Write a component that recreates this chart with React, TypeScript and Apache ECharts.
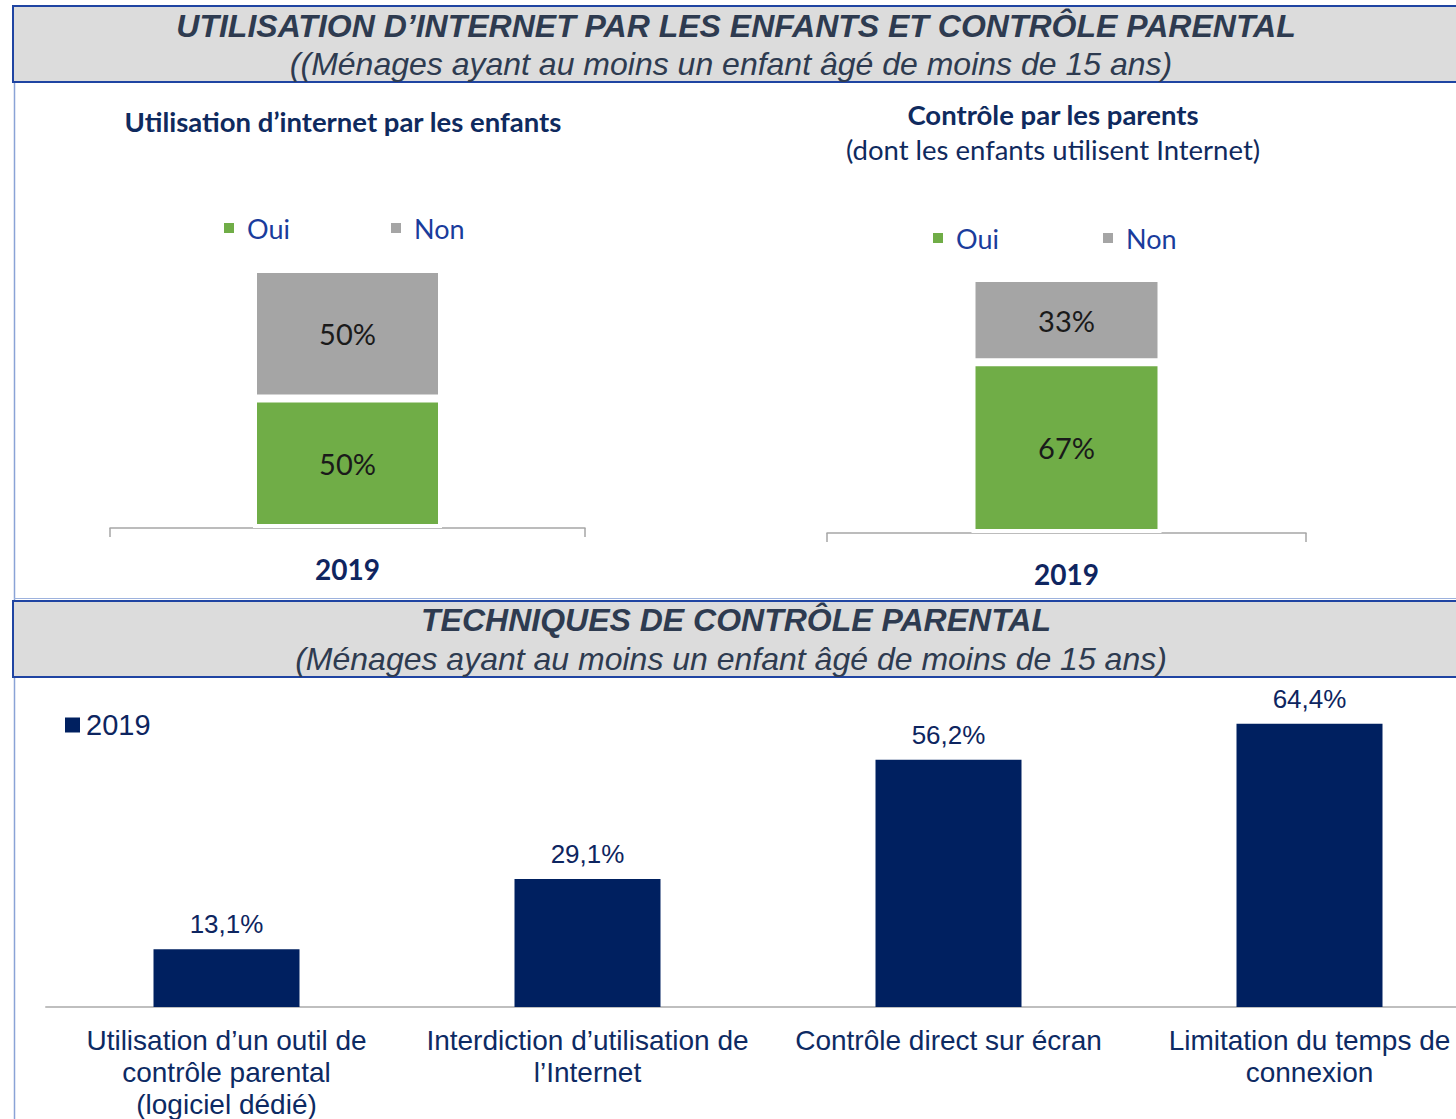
import React, { useEffect, useRef } from "react";
import * as echarts from "echarts";

const yearCategories = ["2019"];
const usageOui = [50];
const usageNon = [50];
const controlOui = [67];
const controlNon = [33];
const techniqueCategories = [
  "Utilisation d’un outil de\ncontrôle parental\n(logiciel dédié)",
  "Interdiction d’utilisation de\nl’Internet",
  "Contrôle direct sur écran",
  "Limitation du temps de\nconnexion",
];
const techniqueValues2019 = [13.1, 29.1, 56.2, 64.4];

const GREEN = "#70ad47";
const GREY = "#a5a5a5";
const NAVY = "#002060";
const TITLE_COLOR = "#2e3b50";
const SUB_COLOR = "#0f2a5e";
const LEGEND_COLOR = "#1a3c9c";
const BAR_BORDER = "#1f44a2";
const CAL = "Lato, 'Open Sans', sans-serif";
const ARIAL = "'Liberation Sans', Arial, sans-serif";

export default function App() {
  const ref = useRef<HTMLDivElement>(null);
  useEffect(() => {
    if (!ref.current) return;
    const chart = echarts.init(ref.current, null, { renderer: "svg" });

    const topLegend = (name: string, left: number, top: number) => ({
      data: [name],
      left,
      top,
      orient: "horizontal",
      icon: "rect",
      itemWidth: 10,
      itemHeight: 10,
      padding: 0,
      selectedMode: false,
      itemStyle: { borderWidth: 0 },
      textStyle: {
        fontFamily: CAL,
        fontSize: 27,
        lineHeight: 30,
        color: LEGEND_COLOR,
        padding: [0, 0, 0, 8],
      },
    });

    const insideLabel = {
      show: true,
      position: "inside",
      fontFamily: CAL,
      fontSize: 29,
      color: "#1a1a1a",
      formatter: (p: any) => p.value + "%",
    };

    const subStyle = (text: string, bold: boolean) => ({
      text,
      fontFamily: CAL,
      fontSize: 27.5,
      fontWeight: bold ? "bold" : "normal",
      fill: SUB_COLOR,
      textAlign: "center",
      textVerticalAlign: "middle",
    });

    const titleStyle = (text: string, bold: boolean) => ({
      text,
      fontFamily: ARIAL,
      fontSize: 32,
      fontWeight: bold ? "bold" : "normal",
      fontStyle: "italic",
      fill: TITLE_COLOR,
      textAlign: "center",
      textVerticalAlign: "middle",
    });

    const option: any = {
      animation: false,
      backgroundColor: "#ffffff",
      graphic: [
        {
          type: "line",
          shape: { x1: 14.5, y1: 82, x2: 14.5, y2: 1119 },
          style: { stroke: "#8aa3d6", lineWidth: 1.5 },
          z: 0,
        },
        {
          type: "line",
          shape: { x1: 14, y1: 598.5, x2: 1456, y2: 598.5 },
          style: { stroke: "#9db2dd", lineWidth: 1 },
          z: 0,
        },
        {
          type: "rect",
          shape: { x: 13, y: 6, width: 1460, height: 76 },
          style: { fill: "#dcdcdc", stroke: BAR_BORDER, lineWidth: 2 },
          z: 1,
        },
        {
          type: "text",
          x: 736,
          y: 26,
          z: 2,
          style: titleStyle("UTILISATION D’INTERNET PAR LES ENFANTS ET CONTRÔLE PARENTAL", true),
        },
        {
          type: "text",
          x: 731,
          y: 64,
          z: 2,
          style: titleStyle("((Ménages ayant au moins un enfant âgé de moins de 15 ans)", false),
        },
        {
          type: "rect",
          shape: { x: 13, y: 601, width: 1460, height: 76 },
          style: { fill: "#dcdcdc", stroke: BAR_BORDER, lineWidth: 2 },
          z: 1,
        },
        {
          type: "text",
          x: 736,
          y: 620,
          z: 2,
          style: titleStyle("TECHNIQUES DE CONTRÔLE PARENTAL", true),
        },
        {
          type: "text",
          x: 731,
          y: 659,
          z: 2,
          style: titleStyle("(Ménages ayant au moins un enfant âgé de moins de 15 ans)", false),
        },
        {
          type: "text",
          x: 343,
          y: 121,
          style: subStyle("Utilisation d’internet par les enfants", true),
        },
        {
          type: "text",
          x: 1053,
          y: 114,
          style: subStyle("Contrôle par les parents", true),
        },
        {
          type: "text",
          x: 1053,
          y: 149,
          style: subStyle("(dont les enfants utilisent Internet)", false),
        },
      ],
      legend: [
        topLegend("Oui", 224, 213),
        topLegend("Non", 391, 213),
        topLegend("Oui", 933, 223),
        topLegend("Non", 1103, 223),
        {
          data: ["2019"],
          left: 65,
          top: 709,
          icon: "rect",
          itemWidth: 15,
          itemHeight: 15,
          padding: 0,
          selectedMode: false,
          textStyle: {
            fontFamily: ARIAL,
            fontSize: 29,
            lineHeight: 32,
            color: "#0d2560",
            padding: [0, 0, 0, 1],
          },
        },
      ],
      grid: [
        { left: 110, top: 269, width: 475, height: 259, outerBoundsMode: "none" },
        { left: 827, top: 278, width: 479, height: 255, outerBoundsMode: "none" },
        { left: 46, top: 699, width: 1444, height: 308, outerBoundsMode: "none" },
      ],
      xAxis: [
        {
          type: "category",
          gridIndex: 0,
          data: yearCategories,
          axisLine: { lineStyle: { color: "#a6a6a6", width: 1.5 } },
          axisTick: { show: true, length: 9, lineStyle: { color: "#a6a6a6", width: 1.5 } },
          axisLabel: {
            fontFamily: CAL,
            fontSize: 28,
            fontWeight: "bold",
            color: "#0f2560",
            margin: 27,
          },
        },
        {
          type: "category",
          gridIndex: 1,
          data: yearCategories,
          axisLine: { lineStyle: { color: "#a6a6a6", width: 1.5 } },
          axisTick: { show: true, length: 9, lineStyle: { color: "#a6a6a6", width: 1.5 } },
          axisLabel: {
            fontFamily: CAL,
            fontSize: 28,
            fontWeight: "bold",
            color: "#0f2560",
            margin: 27,
          },
        },
        {
          type: "category",
          gridIndex: 2,
          data: techniqueCategories,
          axisLine: { lineStyle: { color: "#bfbfbf", width: 2 } },
          axisTick: { show: false },
          axisLabel: {
            fontFamily: ARIAL,
            fontSize: 28,
            lineHeight: 32,
            color: "#0d2a63",
            margin: 17,
            interval: 0,
            hideOverlap: false,
          },
        },
      ],
      yAxis: [
        { type: "value", gridIndex: 0, min: 0, max: 100, show: false },
        { type: "value", gridIndex: 1, min: 0, max: 100, show: false },
        { type: "value", gridIndex: 2, min: 0, max: 70, show: false },
      ],
      series: [
        {
          name: "Oui",
          type: "bar",
          xAxisIndex: 0,
          yAxisIndex: 0,
          stack: "usage",
          data: usageOui,
          barWidth: 189,
          itemStyle: { color: GREEN, borderColor: "#ffffff", borderWidth: 4 },
          label: insideLabel,
        },
        {
          name: "Non",
          type: "bar",
          xAxisIndex: 0,
          yAxisIndex: 0,
          stack: "usage",
          data: usageNon,
          barWidth: 189,
          itemStyle: { color: GREY, borderColor: "#ffffff", borderWidth: 4 },
          label: insideLabel,
        },
        {
          name: "Oui",
          type: "bar",
          xAxisIndex: 1,
          yAxisIndex: 1,
          stack: "control",
          data: controlOui,
          barWidth: 190,
          itemStyle: { color: GREEN, borderColor: "#ffffff", borderWidth: 4 },
          label: insideLabel,
        },
        {
          name: "Non",
          type: "bar",
          xAxisIndex: 1,
          yAxisIndex: 1,
          stack: "control",
          data: controlNon,
          barWidth: 190,
          itemStyle: { color: GREY, borderColor: "#ffffff", borderWidth: 4 },
          label: insideLabel,
        },
        {
          name: "2019",
          type: "bar",
          xAxisIndex: 2,
          yAxisIndex: 2,
          data: techniqueValues2019,
          barWidth: 146,
          itemStyle: { color: NAVY },
          label: {
            show: true,
            position: "top",
            distance: 12,
            fontFamily: ARIAL,
            fontSize: 26,
            color: "#0d2560",
            formatter: (p: any) => p.value.toFixed(1).replace(".", ",") + "%",
          },
        },
      ],
    };

    chart.setOption(option);
    return () => chart.dispose();
  }, []);

  return (
    <div
      ref={ref}
      style={{ position: "fixed", left: 0, top: 0, width: 1456, height: 1119, background: "#fff" }}
    />
  );
}
